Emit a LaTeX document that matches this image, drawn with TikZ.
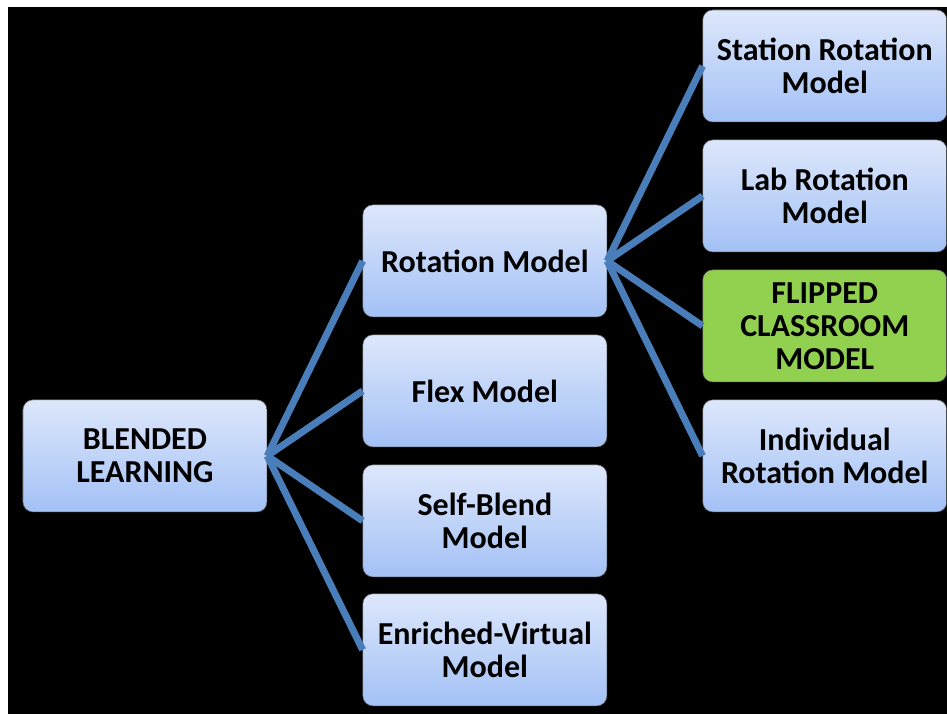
\documentclass[tikz,border=0pt]{standalone}
\usepackage{fontspec}
\setmainfont{Carlito}
\usepackage{tikz}

\definecolor{boxtop}{RGB}{221,231,251}
\definecolor{boxbot}{RGB}{163,193,246}
\definecolor{flipgreen}{RGB}{146,208,80}
\definecolor{linkblue}{RGB}{74,126,187}

\begin{document}
\begin{tikzpicture}[x=0.75pt, y=-0.75pt,
  every node/.style={rectangle, rounded corners=7.5pt, draw=black!55, line width=.4pt,
    minimum width=183pt, minimum height=84pt, inner sep=0pt, align=center,
    top color=boxtop, bottom color=boxbot,
    font=\bfseries\fontsize{24}{24.75}\selectfont},
  link/.style={draw=linkblue, line width=5.25pt}]
  \fill [white] (0, 0) rectangle (947, 714);
  \fill [black] (8, 7) rectangle (947, 714);
  \node (blended) at (145, 456) {BLENDED\\LEARNING};
  \node (rotation) at (485, 261) {Rotation Model};
  \node (flex) at (485, 391) {Flex Model};
  \node (selfblend) at (485, 521) {Self-Blend\\Model};
  \node (enriched) at (485, 650) {Enriched-Virtual\\Model};
  \node (station) at (825, 66) {Station Rotation\\Model};
  \node (lab) at (825, 196) {Lab Rotation\\Model};
  \node [top color=flipgreen, bottom color=flipgreen] (flipped) at (825, 326) {FLIPPED\\CLASSROOM\\MODEL};
  \node (individual) at (825, 456) {Individual\\Rotation Model};
  \draw [link] (blended.east) -- (rotation.west);
  \draw [link] (blended.east) -- (flex.west);
  \draw [link] (blended.east) -- (selfblend.west);
  \draw [link] (blended.east) -- (enriched.west);
  \draw [link] (rotation.east) -- (station.west);
  \draw [link] (rotation.east) -- (lab.west);
  \draw [link] (rotation.east) -- (flipped.west);
  \draw [link] (rotation.east) -- (individual.west);
\end{tikzpicture}
\end{document}
